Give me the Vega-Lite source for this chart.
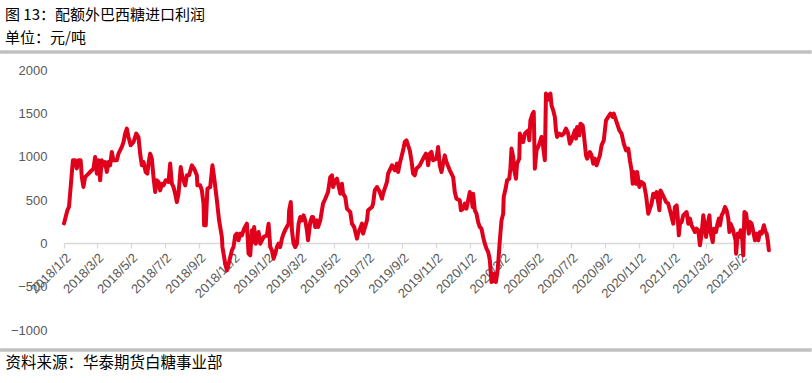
{
  "$schema": "https://vega.github.io/schema/vega-lite/v6.json",
  "width": 706,
  "height": 260,
  "autosize": "none",
  "padding": {"left": 64, "top": 70, "right": 42, "bottom": 53},
  "background": "white",
  "config": {"view": {"stroke": null}},
  "title": {
    "text": "图 13：配额外巴西糖进口利润",
    "subtitle": "单位：元/吨",
    "anchor": "start",
    "frame": "group",
    "dx": -59,
    "offset": 4,
    "font": "Noto Sans CJK SC",
    "fontSize": 15,
    "fontWeight": "normal",
    "color": "#000000",
    "subtitleFont": "Noto Sans CJK SC",
    "subtitleFontSize": 15,
    "subtitleColor": "#000000",
    "subtitlePadding": 8
  },
  "layer": [
    {
      "data": {"values": [{}]},
      "mark": {"type": "rule", "color": "#c0c0c0", "strokeWidth": 3.5},
      "encoding": {
        "x": {"datum": {"year": 2017, "month": 9, "date": 9, "utc": true}, "type": "temporal"},
        "x2": {"datum": {"year": 2021, "month": 9, "date": 8, "utc": true}},
        "y": {"datum": 2208, "type": "quantitative"}
      }
    },
    {
      "data": {"values": [{}]},
      "mark": {"type": "rule", "color": "#c0c0c0", "strokeWidth": 3.5},
      "encoding": {
        "x": {"datum": {"year": 2017, "month": 9, "date": 9, "utc": true}, "type": "temporal"},
        "x2": {"datum": {"year": 2021, "month": 9, "date": 8, "utc": true}},
        "y": {"datum": -1231, "type": "quantitative"}
      }
    },
    {
      "data": {"values": [
        {"d":"2018-01-02","v":230},{"d":"2018-01-08","v":380},{"d":"2018-01-11","v":420},{"d":"2018-01-18","v":958},{"d":"2018-01-22","v":958},{"d":"2018-01-25","v":865},{"d":"2018-01-28","v":958},{"d":"2018-02-01","v":958},{"d":"2018-02-03","v":765},{"d":"2018-02-06","v":650},{"d":"2018-02-09","v":765},{"d":"2018-02-12","v":785},{"d":"2018-02-18","v":823},{"d":"2018-02-24","v":862},{"d":"2018-02-27","v":996},{"d":"2018-03-02","v":804},{"d":"2018-03-05","v":958},{"d":"2018-03-08","v":727},{"d":"2018-03-11","v":958},{"d":"2018-03-14","v":900},{"d":"2018-03-17","v":938},{"d":"2018-03-20","v":823},{"d":"2018-03-23","v":938},{"d":"2018-03-26","v":900},{"d":"2018-03-29","v":1054},{"d":"2018-04-01","v":958},{"d":"2018-04-07","v":958},{"d":"2018-04-10","v":1035},{"d":"2018-04-16","v":1112},{"d":"2018-04-19","v":1169},{"d":"2018-04-22","v":1266},{"d":"2018-04-25","v":1323},{"d":"2018-04-28","v":1227},{"d":"2018-05-02","v":1131},{"d":"2018-05-07","v":1169},{"d":"2018-05-12","v":1266},{"d":"2018-05-16","v":1227},{"d":"2018-05-19","v":1035},{"d":"2018-05-22","v":900},{"d":"2018-05-25","v":938},{"d":"2018-05-29","v":823},{"d":"2018-06-01","v":804},{"d":"2018-06-03","v":920},{"d":"2018-06-06","v":1035},{"d":"2018-06-09","v":977},{"d":"2018-06-12","v":765},{"d":"2018-06-15","v":592},{"d":"2018-06-18","v":727},{"d":"2018-06-21","v":708},{"d":"2018-06-24","v":611},{"d":"2018-06-27","v":688},{"d":"2018-06-30","v":669},{"d":"2018-07-04","v":727},{"d":"2018-07-09","v":708},{"d":"2018-07-12","v":920},{"d":"2018-07-15","v":688},{"d":"2018-07-18","v":650},{"d":"2018-07-21","v":573},{"d":"2018-07-24","v":477},{"d":"2018-07-27","v":573},{"d":"2018-07-31","v":881},{"d":"2018-08-03","v":765},{"d":"2018-08-08","v":669},{"d":"2018-08-11","v":785},{"d":"2018-08-15","v":785},{"d":"2018-08-20","v":900},{"d":"2018-08-24","v":862},{"d":"2018-08-29","v":785},{"d":"2018-08-30","v":669},{"d":"2018-09-04","v":669},{"d":"2018-09-07","v":611},{"d":"2018-09-10","v":458},{"d":"2018-09-11","v":208},{"d":"2018-09-14","v":208},{"d":"2018-09-17","v":631},{"d":"2018-09-22","v":650},{"d":"2018-09-26","v":900},{"d":"2018-09-29","v":765},{"d":"2018-10-04","v":496},{"d":"2018-10-08","v":265},{"d":"2018-10-13","v":73},{"d":"2018-10-14","v":-42},{"d":"2018-10-19","v":-235},{"d":"2018-10-22","v":-312},{"d":"2018-10-26","v":-215},{"d":"2018-10-31","v":-81},{"d":"2018-11-03","v":-42},{"d":"2018-11-06","v":92},{"d":"2018-11-09","v":112},{"d":"2018-11-12","v":35},{"d":"2018-11-15","v":112},{"d":"2018-11-18","v":92},{"d":"2018-11-22","v":169},{"d":"2018-11-27","v":227},{"d":"2018-11-30","v":-119},{"d":"2018-12-03","v":-138},{"d":"2018-12-06","v":150},{"d":"2018-12-09","v":15},{"d":"2018-12-10","v":188},{"d":"2018-12-13","v":-4},{"d":"2018-12-18","v":131},{"d":"2018-12-21","v":-4},{"d":"2018-12-24","v":35},{"d":"2018-12-27","v":73},
        {"d":"2019-01-02","v":92},{"d":"2019-01-05","v":227},{"d":"2019-01-08","v":-42},{"d":"2019-01-11","v":-81},{"d":"2019-01-14","v":-177},{"d":"2019-01-17","v":-119},{"d":"2019-01-20","v":-42},{"d":"2019-01-23","v":-4},{"d":"2019-01-26","v":-42},{"d":"2019-01-29","v":54},{"d":"2019-02-01","v":112},{"d":"2019-02-05","v":169},{"d":"2019-02-10","v":227},{"d":"2019-02-11","v":381},{"d":"2019-02-14","v":477},{"d":"2019-02-16","v":150},{"d":"2019-02-19","v":-4},{"d":"2019-02-22","v":-42},{"d":"2019-02-25","v":-4},{"d":"2019-02-28","v":227},{"d":"2019-03-03","v":304},{"d":"2019-03-06","v":265},{"d":"2019-03-09","v":323},{"d":"2019-03-12","v":265},{"d":"2019-03-15","v":150},{"d":"2019-03-17","v":35},{"d":"2019-03-21","v":246},{"d":"2019-03-24","v":304},{"d":"2019-03-26","v":304},{"d":"2019-03-30","v":188},{"d":"2019-04-02","v":265},{"d":"2019-04-04","v":188},{"d":"2019-04-08","v":265},{"d":"2019-04-11","v":381},{"d":"2019-04-13","v":458},{"d":"2019-04-17","v":515},{"d":"2019-04-22","v":592},{"d":"2019-04-26","v":765},{"d":"2019-04-29","v":785},{"d":"2019-05-01","v":650},{"d":"2019-05-05","v":727},{"d":"2019-05-08","v":746},{"d":"2019-05-10","v":688},{"d":"2019-05-14","v":573},{"d":"2019-05-17","v":688},{"d":"2019-05-19","v":573},{"d":"2019-05-23","v":534},{"d":"2019-05-26","v":400},{"d":"2019-06-01","v":361},{"d":"2019-06-04","v":227},{"d":"2019-06-08","v":188},{"d":"2019-06-13","v":54},{"d":"2019-06-15","v":112},{"d":"2019-06-22","v":227},{"d":"2019-06-24","v":112},{"d":"2019-07-01","v":265},{"d":"2019-07-03","v":381},{"d":"2019-07-10","v":419},{"d":"2019-07-12","v":458},{"d":"2019-07-15","v":611},{"d":"2019-07-19","v":650},{"d":"2019-07-24","v":592},{"d":"2019-07-28","v":515},{"d":"2019-07-30","v":573},{"d":"2019-08-06","v":708},{"d":"2019-08-08","v":804},{"d":"2019-08-15","v":900},{"d":"2019-08-20","v":842},{"d":"2019-08-24","v":920},{"d":"2019-08-26","v":823},{"d":"2019-08-29","v":920},{"d":"2019-09-04","v":1073},{"d":"2019-09-07","v":1169},{"d":"2019-09-10","v":1188},{"d":"2019-09-13","v":1131},{"d":"2019-09-16","v":1073},{"d":"2019-09-19","v":958},{"d":"2019-09-22","v":804},{"d":"2019-09-25","v":785},{"d":"2019-09-28","v":862},{"d":"2019-10-04","v":900},{"d":"2019-10-10","v":977},{"d":"2019-10-15","v":1035},{"d":"2019-10-18","v":958},{"d":"2019-10-19","v":900},{"d":"2019-10-22","v":1035},{"d":"2019-10-25","v":1054},{"d":"2019-10-28","v":958},{"d":"2019-11-03","v":977},{"d":"2019-11-06","v":1112},{"d":"2019-11-09","v":900},{"d":"2019-11-12","v":823},{"d":"2019-11-15","v":920},{"d":"2019-11-18","v":1015},{"d":"2019-11-21","v":938},{"d":"2019-11-27","v":842},{"d":"2019-12-03","v":765},{"d":"2019-12-06","v":592},{"d":"2019-12-09","v":515},{"d":"2019-12-15","v":496},{"d":"2019-12-17","v":381},{"d":"2019-12-21","v":400},{"d":"2019-12-24","v":458},{"d":"2019-12-27","v":400},{"d":"2019-12-30","v":496},
        {"d":"2020-01-02","v":592},{"d":"2020-01-05","v":534},{"d":"2020-01-07","v":419},{"d":"2020-01-08","v":573},{"d":"2020-01-11","v":381},{"d":"2020-01-14","v":342},{"d":"2020-01-17","v":246},{"d":"2020-01-20","v":188},{"d":"2020-01-23","v":169},{"d":"2020-01-26","v":73},{"d":"2020-01-29","v":-4},{"d":"2020-02-01","v":-62},{"d":"2020-02-04","v":-100},{"d":"2020-02-06","v":-158},{"d":"2020-02-07","v":-196},{"d":"2020-02-10","v":-446},{"d":"2020-02-12","v":-440},{"d":"2020-02-14","v":-350},{"d":"2020-02-18","v":-446},{"d":"2020-02-21","v":-312},{"d":"2020-02-22","v":-235},{"d":"2020-02-25","v":35},{"d":"2020-02-28","v":265},{"d":"2020-03-02","v":342},{"d":"2020-03-03","v":534},{"d":"2020-03-07","v":650},{"d":"2020-03-09","v":727},{"d":"2020-03-13","v":746},{"d":"2020-03-15","v":862},{"d":"2020-03-17","v":1093},{"d":"2020-03-20","v":996},{"d":"2020-03-22","v":842},{"d":"2020-03-25","v":746},{"d":"2020-03-27","v":920},{"d":"2020-03-31","v":977},{"d":"2020-04-01","v":1266},{"d":"2020-04-04","v":1208},{"d":"2020-04-07","v":1169},{"d":"2020-04-10","v":1266},{"d":"2020-04-13","v":1285},{"d":"2020-04-16","v":1304},{"d":"2020-04-18","v":1188},{"d":"2020-04-20","v":1419},{"d":"2020-04-24","v":1497},{"d":"2020-04-26","v":1516},{"d":"2020-04-28","v":862},{"d":"2020-05-01","v":1073},{"d":"2020-05-04","v":1112},{"d":"2020-05-07","v":1169},{"d":"2020-05-10","v":1227},{"d":"2020-05-13","v":1112},{"d":"2020-05-16","v":958},{"d":"2020-05-18","v":1728},{"d":"2020-05-20","v":1650},{"d":"2020-05-23","v":1708},{"d":"2020-05-26","v":1728},{"d":"2020-05-28","v":1592},{"d":"2020-05-31","v":1535},{"d":"2020-06-03","v":1458},{"d":"2020-06-05","v":1304},{"d":"2020-06-07","v":1227},{"d":"2020-06-11","v":1266},{"d":"2020-06-15","v":1246},{"d":"2020-06-19","v":1266},{"d":"2020-06-23","v":1323},{"d":"2020-06-27","v":1266},{"d":"2020-06-30","v":1150},{"d":"2020-07-03","v":1188},{"d":"2020-07-06","v":1246},{"d":"2020-07-09","v":1304},{"d":"2020-07-11","v":1208},{"d":"2020-07-13","v":1342},{"d":"2020-07-17","v":1246},{"d":"2020-07-19","v":1381},{"d":"2020-07-23","v":1362},{"d":"2020-07-25","v":1266},{"d":"2020-07-29","v":1015},{"d":"2020-07-31","v":977},{"d":"2020-08-05","v":1054},{"d":"2020-08-08","v":1015},{"d":"2020-08-11","v":920},{"d":"2020-08-14","v":977},{"d":"2020-08-17","v":900},{"d":"2020-08-20","v":958},{"d":"2020-08-23","v":1015},{"d":"2020-08-26","v":1131},{"d":"2020-08-30","v":1188},{"d":"2020-09-03","v":1419},{"d":"2020-09-07","v":1458},{"d":"2020-09-11","v":1497},{"d":"2020-09-15","v":1458},{"d":"2020-09-17","v":1497},{"d":"2020-09-21","v":1419},{"d":"2020-09-23","v":1381},{"d":"2020-09-27","v":1304},{"d":"2020-10-01","v":1266},{"d":"2020-10-05","v":1150},{"d":"2020-10-09","v":1073},{"d":"2020-10-13","v":1093},{"d":"2020-10-16","v":958},{"d":"2020-10-19","v":842},{"d":"2020-10-21","v":688},{"d":"2020-10-23","v":823},{"d":"2020-10-27","v":688},{"d":"2020-10-29","v":823},{"d":"2020-11-02","v":650},{"d":"2020-11-06","v":708},{"d":"2020-11-10","v":688},{"d":"2020-11-14","v":554},{"d":"2020-11-18","v":342},{"d":"2020-11-21","v":400},{"d":"2020-11-24","v":458},{"d":"2020-11-27","v":573},{"d":"2020-11-30","v":534},{"d":"2020-12-03","v":592},{"d":"2020-12-08","v":381},{"d":"2020-12-10","v":611},{"d":"2020-12-13","v":573},{"d":"2020-12-16","v":534},{"d":"2020-12-20","v":477},{"d":"2020-12-24","v":458},{"d":"2020-12-27","v":381},
        {"d":"2021-01-02","v":227},{"d":"2021-01-05","v":419},{"d":"2021-01-08","v":439},{"d":"2021-01-10","v":304},{"d":"2021-01-12","v":92},{"d":"2021-01-14","v":227},{"d":"2021-01-17","v":246},{"d":"2021-01-20","v":323},{"d":"2021-01-23","v":342},{"d":"2021-01-26","v":361},{"d":"2021-01-29","v":227},{"d":"2021-02-01","v":285},{"d":"2021-02-04","v":208},{"d":"2021-02-07","v":169},{"d":"2021-02-10","v":131},{"d":"2021-02-13","v":169},{"d":"2021-02-16","v":150},{"d":"2021-02-19","v":-23},{"d":"2021-02-22","v":112},{"d":"2021-02-25","v":323},{"d":"2021-02-28","v":188},{"d":"2021-03-02","v":73},{"d":"2021-03-04","v":188},{"d":"2021-03-08","v":323},{"d":"2021-03-10","v":131},{"d":"2021-03-14","v":15},{"d":"2021-03-16","v":169},{"d":"2021-03-20","v":131},{"d":"2021-03-22","v":208},{"d":"2021-03-25","v":285},{"d":"2021-03-27","v":208},{"d":"2021-03-30","v":323},{"d":"2021-04-02","v":361},{"d":"2021-04-05","v":419},{"d":"2021-04-08","v":381},{"d":"2021-04-11","v":285},{"d":"2021-04-13","v":131},{"d":"2021-04-15","v":227},{"d":"2021-04-19","v":169},{"d":"2021-04-21","v":112},{"d":"2021-04-24","v":35},{"d":"2021-04-25","v":-119},{"d":"2021-04-28","v":112},{"d":"2021-05-01","v":73},{"d":"2021-05-03","v":150},{"d":"2021-05-06","v":54},{"d":"2021-05-08","v":-138},{"d":"2021-05-10","v":361},{"d":"2021-05-13","v":342},{"d":"2021-05-15","v":246},{"d":"2021-05-18","v":112},{"d":"2021-05-20","v":246},{"d":"2021-05-23","v":227},{"d":"2021-05-26","v":131},{"d":"2021-05-29","v":35},{"d":"2021-06-01","v":112},{"d":"2021-06-04","v":35},{"d":"2021-06-07","v":131},{"d":"2021-06-10","v":112},{"d":"2021-06-14","v":208},{"d":"2021-06-17","v":131},{"d":"2021-06-19","v":112},{"d":"2021-06-21","v":35},{"d":"2021-06-23","v":-81}
      ]},
      "mark": {"type": "line", "color": "#E0001B", "strokeWidth": 4, "strokeJoin": "round", "strokeCap": "round"},
      "encoding": {
        "x": {
          "field": "d",
          "type": "temporal",
          "scale": {"type": "utc", "domain": [{"year": 2018, "month": 1, "date": 2, "utc": true}, {"year": 2021, "month": 6, "date": 25, "utc": true}]},
          "axis": {
            "orient": "bottom",
            "offset": -87,
            "values": [1514851200000, 1519948800000, 1525219200000, 1530489600000, 1535846400000, 1541116800000, 1546387200000, 1551484800000, 1556755200000, 1562025600000, 1567382400000, 1572652800000, 1577923200000, 1583107200000, 1588377600000, 1593648000000, 1599004800000, 1604275200000, 1609545600000, 1614643200000, 1619913600000],
            "tickCount": 40,
            "labelExpr": "utcFormat(datum.value, '%Y/%-m/%-d')",
            "labelAngle": -45,
            "labelAlign": "right",
            "labelBaseline": "top",
            "labelPadding": 3,
            "labelFlush": false,
            "labelOverlap": false,
            "labelFont": "Liberation Sans",
            "labelFontSize": 13,
            "labelColor": "#595959",
            "domainColor": "#d9d9d9",
            "domainWidth": 1.3,
            "tickColor": "#d9d9d9",
            "tickSize": 5,
            "tickWidth": 1.3,
            "grid": false,
            "title": "资料来源：华泰期货白糖事业部",
            "titleFont": "Noto Sans CJK SC",
            "titleFontSize": 15.5,
            "titleFontWeight": "normal",
            "titleColor": "#000000",
            "titleX": -59,
            "titleY": 119,
            "titleAlign": "left",
            "titleBaseline": "middle",
            "titleAngle": 0
          }
        },
        "y": {
          "field": "v",
          "type": "quantitative",
          "scale": {"domain": [-1000, 2000], "nice": false, "zero": false},
          "axis": {
            "values": [-1000, -500, 0, 500, 1000, 1500, 2000],
            "format": "d",
            "grid": false,
            "domain": false,
            "ticks": false,
            "labelPadding": 17,
            "labelFont": "Liberation Sans",
            "labelFontSize": 13,
            "labelColor": "#595959",
            "title": null
          }
        }
      }
    }
  ]
}
